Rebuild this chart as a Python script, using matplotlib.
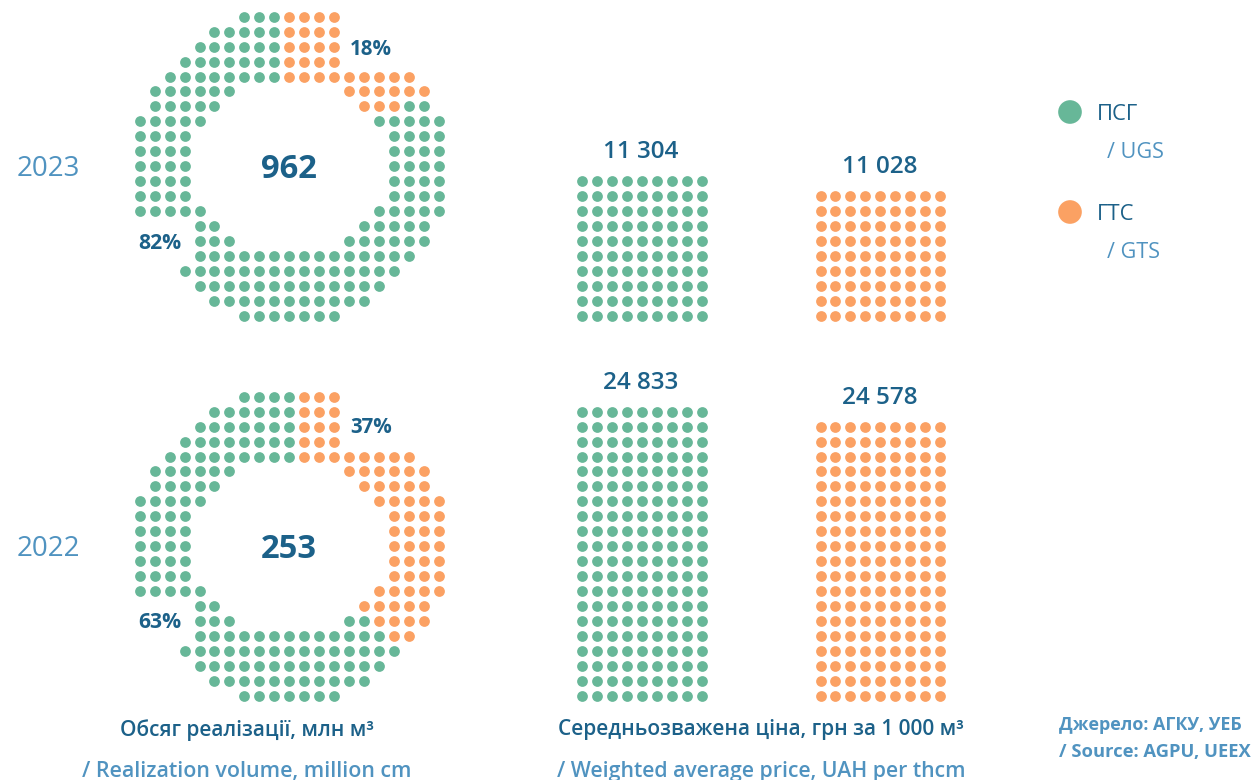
import numpy as np
import matplotlib
matplotlib.use("Agg")
import matplotlib.pyplot as plt

# ---------- data ----------
# G = ПСГ / UGS dot, O = ГТС / GTS dot, . = empty cell
ring_2023 = [
    ".......GGGOOOO.......",
    ".....GGGGGOOOO.......",
    "....GGGGGGOOOO.......",
    "...GGGGGGGOOOO.......",
    "..GGGGGGGGOOOOOOOOO..",
    ".GGGGGG.......OOOOOO.",
    ".GGGGG.........OOOGG.",
    "GGGGG...........GGGGG",
    "GGGG.............GGGG",
    "GGGG.............GGGG",
    "GGGG.............GGGG",
    "GGGG.............GGGG",
    "GGGG.............GGGG",
    "GGGGG...........GGGGG",
    "....GG.........GGGGG.",
    "....GGG.......GGGGGG.",
    "....GGGGGGGGGGGGGGG..",
    "...GGGGGGGGGGGGGGG...",
    "....GGGGGGGGGGGGG....",
    ".....GGGGGGGGGGG.....",
    ".......GGGGGGG.......",
]
ring_2022 = [
    ".......GGGGOOO.......",
    ".....GGGGGGOOO.......",
    "....GGGGGGGOOO.......",
    "...GGGGGGGGOOO.......",
    "..GGGGGGGGGOOOOOOOO..",
    ".GGGGGG.......OOOOOO.",
    ".GGGGG.........OOOOO.",
    "GGGGG...........OOOOO",
    "GGGG.............OOOO",
    "GGGG.............OOOO",
    "GGGG.............OOOO",
    "GGGG.............OOOO",
    "GGGG.............OOOO",
    "GGGGG...........OOOOO",
    "....GG.........OOOOO.",
    "....GGG.......GGOOOO.",
    "....GGGGGGGGGGGGGOO..",
    "...GGGGGGGGGGGGGGG...",
    "....GGGGGGGGGGGGG....",
    ".....GGGGGGGGGGG.....",
    ".......GGGGGGG.......",
]
years = ["2023", "2022"]
totals = ["962", "253"]
shares_gts = ["18%", "37%"]
shares_ugs = ["82%", "63%"]
price_ugs = ["11 304", "24 833"]
price_gts = ["11 028", "24 578"]
rows_ugs = [10, 20]
rows_gts = [9, 19]
columns_per_bar = 9

# ---------- style ----------
W, H = 1256, 780
GREEN, ORANGE = "#67B798", "#FBA163"
DARK, LIGHT = "#1C6189", "#5093C0"
FONT = "Open Sans"
plt.rcParams["font.family"] = [FONT, "DejaVu Sans"]
STEP = 14.95
DOT_S = 60

fig = plt.figure(figsize=(W / 100, H / 100), dpi=100, facecolor="white")
ax = fig.add_axes([0, 0, 1, 1])
ax.set_xlim(0, W)
ax.set_ylim(H, 0)
ax.axis("off")


def t(x, y, s, size, color=DARK, weight="bold", ha="center"):
    ax.text(x, y, s, fontsize=size, color=color, fontweight=weight,
            ha=ha, va="center", clip_on=False)


def dots(xs, ys, color):
    ax.scatter(xs, ys, s=DOT_S, color=color, linewidths=0, zorder=2)


def draw_ring(mask, x0, y0):
    for code, color in (("G", GREEN), ("O", ORANGE)):
        cells = [(c, r) for r, row in enumerate(mask)
                 for c, ch in enumerate(row) if ch == code]
        cells = np.array(cells)
        dots(x0 + cells[:, 0] * STEP, y0 + cells[:, 1] * STEP, color)


def draw_bar(n_rows, x0, y_bottom, color):
    cc, rr = np.meshgrid(np.arange(columns_per_bar), np.arange(n_rows))
    dots(x0 + cc.ravel() * STEP, y_bottom - rr.ravel() * STEP, color)


ring_top = [16.7, 396.7]
bottom = [315.7, 695.7]
for i, mask in enumerate((ring_2023, ring_2022)):
    draw_ring(mask, 139.7, ring_top[i])
    cy = ring_top[i] + 149.5
    t(48.5, cy + 3, years[i], 20, LIGHT, "normal")
    t(289, cy + 3, totals[i], 23.6)
    t(371, cy - 117 + (0 if i == 0 else -2), shares_gts[i], 14.8)
    t(159.5, cy + 77 + (0 if i == 0 else -1), shares_ugs[i], 15.2)
    draw_bar(rows_ugs[i], 582, bottom[i], GREEN)
    draw_bar(rows_gts[i], 820.5, bottom[i], ORANGE)
    t(641, bottom[i] - (rows_ugs[i] - 1) * STEP - 29, price_ugs[i], 17.5, weight="semibold")
    t(880, bottom[i] - (rows_gts[i] - 1) * STEP - 29, price_gts[i], 17.5, weight="semibold")

# legend
ax.scatter([1070, 1070], [112, 212], s=290, color=[GREEN, ORANGE], linewidths=0)
t(1097, 115, "ПСГ", 15.8, DARK, "normal", "left")
t(1107, 153, "/ UGS", 15.6, LIGHT, "normal", "left")
t(1097, 215, "ГТС", 15.8, DARK, "normal", "left")
t(1107, 253, "/ GTS", 15.6, LIGHT, "normal", "left")

# captions
t(247, 730, "Обсяг реалізації, млн м³", 15, weight="semibold")
t(247, 772, "/ Realization volume, million cm", 15.4, LIGHT, "semibold")
t(761, 730, "Середньозважена ціна, грн за 1 000 м³", 15, weight="semibold")
t(761, 772, "/ Weighted average price, UAH per thcm", 15.3, LIGHT, "semibold")
t(1059, 725, "Джерело: АГКУ, УЕБ", 12.9, LIGHT, "bold", "left")
t(1059, 752, "/ Source: AGPU, UEEX", 13.2, LIGHT, "bold", "left")

fig.savefig("out.png", dpi=100, facecolor="white")
